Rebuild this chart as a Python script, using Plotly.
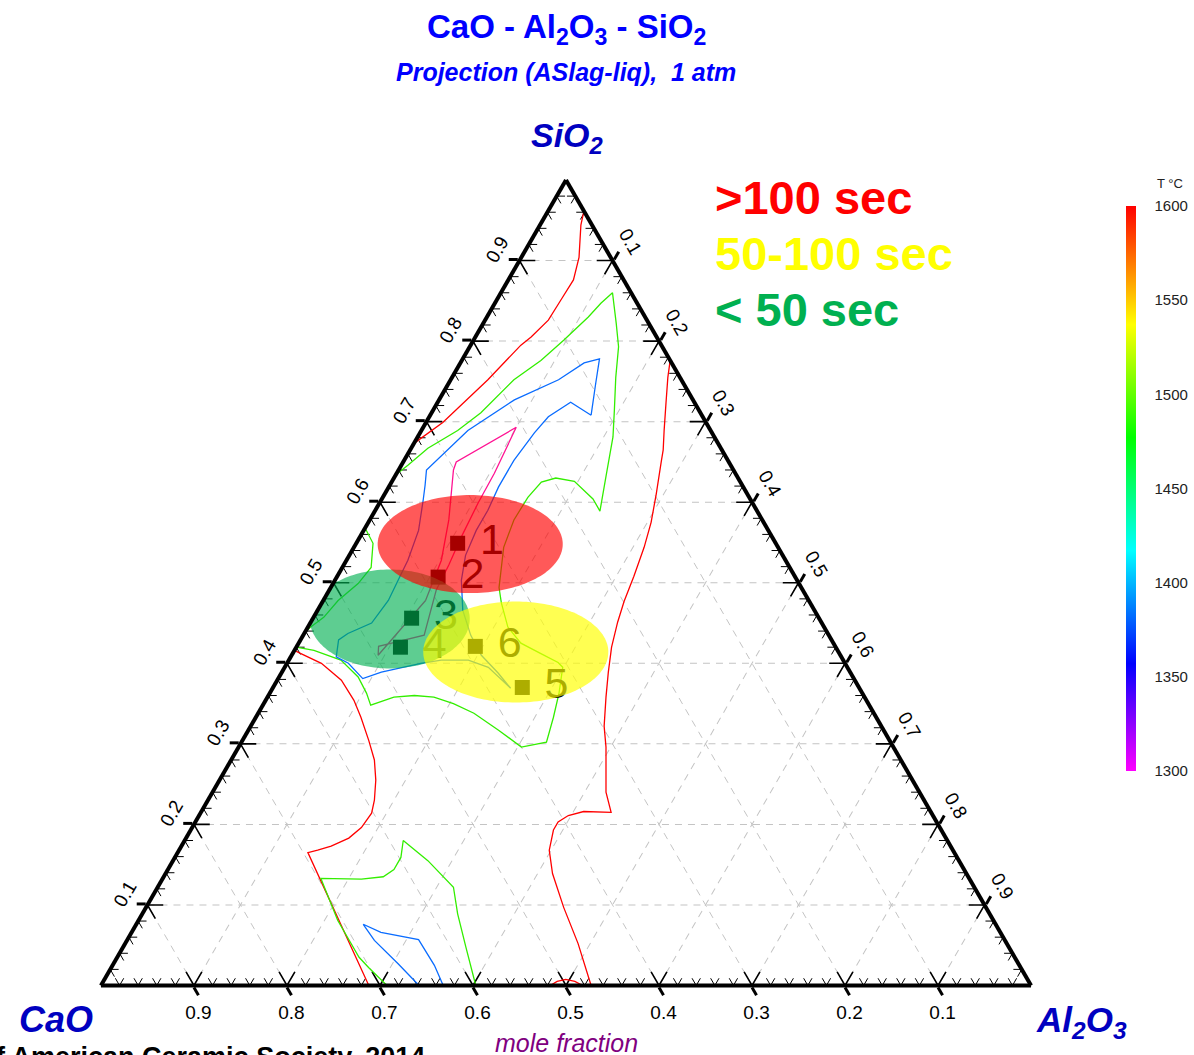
import math
import plotly.graph_objects as go

FONT = "Liberation Sans, Arial, sans-serif"

# ---------------- liquidus isotherms (mole fractions) ----------------
# every line is given as SiO2 and Al2O3 fractions; CaO is the remainder
iso1600_apex_sio2 = [0.9615, 0.944, 0.904, 0.876, 0.851, 0.826, 0.805, 0.795, 0.752, 0.699, 0.673]
iso1600_apex_al2o3 = [0.0385, 0.044, 0.062, 0.070, 0.069, 0.068, 0.060, 0.054, 0.040, 0.018, 0.000]

iso1600_right_sio2 = [0.776, 0.755, 0.723, 0.689, 0.665, 0.651, 0.610, 0.575, 0.544, 0.508, 0.477, 0.451,
                      0.420, 0.389, 0.358, 0.322, 0.296, 0.268, 0.240, 0.215, 0.216, 0.211, 0.203, 0.193,
                      0.168, 0.139, 0.097, 0.052, 0.000]
iso1600_right_al2o3 = [0.224, 0.232, 0.246, 0.261, 0.272, 0.277, 0.292, 0.304, 0.312, 0.319, 0.324, 0.330,
                       0.339, 0.351, 0.364, 0.380, 0.395, 0.409, 0.423, 0.441, 0.411, 0.397, 0.390, 0.390,
                       0.398, 0.416, 0.449, 0.487, 0.527]

iso1600_arc_sio2 = [0.000, 0.005, 0.0075, 0.005, 0.000]
iso1600_arc_al2o3 = [0.483, 0.488, 0.496, 0.507, 0.518]

iso1600_left_sio2 = [0.416, 0.412, 0.400, 0.379, 0.354, 0.333, 0.304, 0.280, 0.255, 0.230, 0.214, 0.196,
                     0.183, 0.173, 0.168, 0.165, 0.000]
iso1600_left_al2o3 = [0.000, 0.009, 0.037, 0.069, 0.095, 0.113, 0.136, 0.154, 0.168, 0.179, 0.184, 0.182,
                      0.175, 0.161, 0.149, 0.140, 0.288]

iso1500_main_sio2 = [0.634, 0.646, 0.667, 0.689, 0.711, 0.752, 0.776, 0.801, 0.830, 0.847, 0.860, 0.822,
                     0.793, 0.755, 0.714, 0.681, 0.632, 0.589, 0.604, 0.626, 0.630, 0.625, 0.606, 0.578,
                     0.544, 0.519, 0.494, 0.475, 0.445, 0.425, 0.412, 0.401, 0.395, 0.363, 0.333, 0.302,
                     0.296, 0.317, 0.338, 0.350, 0.358, 0.360, 0.358, 0.348, 0.363, 0.383, 0.404, 0.416,
                     0.420]
iso1500_main_al2o3 = [0.000, 0.007, 0.018, 0.039, 0.053, 0.068, 0.085, 0.097, 0.109, 0.114, 0.120, 0.143,
                      0.160, 0.176, 0.195, 0.210, 0.227, 0.242, 0.227, 0.196, 0.174, 0.161, 0.156, 0.155,
                      0.161, 0.171, 0.181, 0.193, 0.215, 0.239, 0.267, 0.291, 0.299, 0.311, 0.320, 0.328,
                      0.304, 0.269, 0.232, 0.204, 0.179, 0.157, 0.136, 0.116, 0.104, 0.085, 0.056, 0.021,
                      0.000]

iso1500_edge_sio2 = [0.568, 0.549, 0.519, 0.499, 0.478, 0.457, 0.445, 0.439]
iso1500_edge_al2o3 = [0.000, 0.018, 0.031, 0.027, 0.016, 0.011, 0.003, 0.000]

iso1500_low_sio2 = [0.000, 0.022, 0.035, 0.081, 0.133, 0.132, 0.135, 0.144, 0.159, 0.180, 0.155, 0.122,
                    0.089, 0.047, 0.000]
iso1500_low_al2o3 = [0.3075, 0.277, 0.260, 0.214, 0.170, 0.214, 0.236, 0.243, 0.243, 0.235, 0.274, 0.318,
                     0.339, 0.369, 0.403]

iso1400_loop_sio2 = [0.708, 0.724, 0.706, 0.686, 0.652, 0.619, 0.590, 0.565, 0.534, 0.503, 0.466, 0.435,
                     0.410, 0.388, 0.369, 0.395, 0.404, 0.404, 0.400, 0.389, 0.381, 0.400, 0.408, 0.429,
                     0.437, 0.450, 0.478, 0.503, 0.528, 0.565, 0.603, 0.621, 0.640, 0.689, 0.727, 0.752,
                     0.773, 0.778, 0.748, 0.708]
iso1400_loop_al2o3 = [0.173, 0.143, 0.128, 0.123, 0.118, 0.118, 0.121, 0.121, 0.125, 0.136, 0.156, 0.180,
                      0.204, 0.233, 0.256, 0.219, 0.193, 0.164, 0.144, 0.107, 0.091, 0.066, 0.049, 0.041,
                      0.047, 0.066, 0.070, 0.068, 0.066, 0.059, 0.045, 0.038, 0.030, 0.050, 0.081, 0.116,
                      0.133, 0.147, 0.158, 0.173]

iso1400_low_sio2 = [0.000, 0.027, 0.056, 0.076, 0.066, 0.057, 0.025, 0.000]
iso1400_low_al2o3 = [0.342, 0.306, 0.266, 0.244, 0.268, 0.313, 0.346, 0.368]

iso1300_sio2 = [0.478, 0.528, 0.578, 0.640, 0.650, 0.693, 0.636, 0.599, 0.557, 0.522, 0.491, 0.435,
                0.421, 0.410, 0.478]
iso1300_al2o3 = [0.110, 0.102, 0.085, 0.059, 0.057, 0.100, 0.105, 0.106, 0.109, 0.113, 0.115, 0.130,
                 0.088, 0.093, 0.110]

# ---------------- slag samples ----------------
sample_ids = ["1", "2", "3", "4", "5", "6"]
sample_sio2 = [0.549, 0.507, 0.456, 0.420, 0.370, 0.421]
sample_al2o3 = [0.109, 0.109, 0.106, 0.112, 0.268, 0.192]

# crystallisation-time groups (highlight ellipses)
group_labels = [">100 sec", "50-100 sec", "< 50 sec"]
group_center_sio2 = [0.548, 0.414, 0.455]
group_center_al2o3 = [0.123, 0.239, 0.083]

# axis ticks / colour bar
tick_vals = [0.1, 0.2, 0.3, 0.4, 0.5, 0.6, 0.7, 0.8, 0.9]
tick_text = ["0.1", "0.2", "0.3", "0.4", "0.5", "0.6", "0.7", "0.8", "0.9"]
temp_ticks = [1300, 1350, 1400, 1450, 1500, 1550, 1600]

# ---------------------------------------------------------------
S3 = math.sqrt(3) / 2


def cao(sio2, al2o3):
    return [1 - s - a for s, a in zip(sio2, al2o3)]


def ellipse(sio2, al2o3, half_w, half_h, n=160):
    """Ellipse in the plane of the triangle (side = 1), returned as compositions."""
    xc = al2o3 + sio2 / 2
    yc = sio2 * S3
    A, B, C = [], [], []
    for k in range(n + 1):
        t = 2 * math.pi * k / n
        x = xc + half_w * math.cos(t)
        y = yc + half_h * math.sin(t)
        a = y / S3
        c = x - a / 2
        A.append(a)
        C.append(c)
        B.append(1 - a - c)
    return A, B, C


def edge_marks(values, arm):
    """Small V-shaped marks on the three edges, along the two grid directions."""
    A, B, C = [], [], []

    def seg(p, q, r):
        for pt in (p, q, r):
            A.append(pt[0]); B.append(pt[1]); C.append(pt[2])
        A.append(None); B.append(None); C.append(None)

    for v in values:
        # bottom edge (SiO2 = 0), CaO = v
        seg((arm, v, 1 - v - arm), (0, v, 1 - v), (arm, v - arm, 1 - v))
        # left edge (Al2O3 = 0), SiO2 = v
        seg((v, 1 - v - arm, arm), (v, 1 - v, 0), (v - arm, 1 - v, arm))
        # right edge (CaO = 0), SiO2 = v
        seg((v, arm, 1 - v - arm), (v, 0, 1 - v), (v - arm, arm, 1 - v))
    return A, B, C


fig = go.Figure()

# edge marks
minor_vals = [round(0.02 * k, 2) for k in range(1, 50) if k % 5 != 0]
ma, mb, mc = edge_marks(minor_vals, 0.009)
fig.add_trace(go.Scatterternary(a=ma, b=mb, c=mc, mode="lines",
                                line=dict(color="black", width=1), hoverinfo="skip",
                                showlegend=False))
Ma, Mb, Mc = edge_marks(tick_vals, 0.017)
fig.add_trace(go.Scatterternary(a=Ma, b=Mb, c=Mc, mode="lines",
                                line=dict(color="black", width=1.6), hoverinfo="skip",
                                showlegend=False))

# isotherms
isotherms = [
    (iso1600_apex_sio2, iso1600_apex_al2o3, "#ff0000"),
    (iso1600_right_sio2, iso1600_right_al2o3, "#ff0000"),
    (iso1600_arc_sio2, iso1600_arc_al2o3, "#ff0000"),
    (iso1600_left_sio2, iso1600_left_al2o3, "#ff0000"),
    (iso1500_main_sio2, iso1500_main_al2o3, "#33ee00"),
    (iso1500_edge_sio2, iso1500_edge_al2o3, "#33ee00"),
    (iso1500_low_sio2, iso1500_low_al2o3, "#33ee00"),
    (iso1400_loop_sio2, iso1400_loop_al2o3, "#0a6cff"),
    (iso1400_low_sio2, iso1400_low_al2o3, "#0a6cff"),
    (iso1300_sio2, iso1300_al2o3, "#ff1493"),
]
for s, a, col in isotherms:
    fig.add_trace(go.Scatterternary(a=s, b=cao(s, a), c=a, mode="lines",
                                    line=dict(color=col, width=1.3), hoverinfo="skip",
                                    showlegend=False))

# samples (number set a little apart from its square)
fig.add_trace(go.Scatterternary(
    a=sample_sio2, b=cao(sample_sio2, sample_al2o3), c=sample_al2o3,
    mode="markers+text", text=["\u00a0" + s for s in sample_ids], textposition="middle right",
    marker=dict(symbol="square", size=15, color="black"),
    textfont=dict(family=FONT, size=43, color="black"),
    hoverinfo="skip", showlegend=False, cliponaxis=False))

# translucent group ellipses (drawn over the samples)
ell_sizes = {"< 50 sec": (0.086, 0.0532), ">100 sec": (0.0995, 0.0527), "50-100 sec": (0.0995, 0.0543)}
ell_fill = {"< 50 sec": "rgba(0,176,80,0.63)", ">100 sec": "rgba(255,0,0,0.65)",
            "50-100 sec": "rgba(255,255,0,0.68)"}
for name in ["< 50 sec", ">100 sec", "50-100 sec"]:
    i = group_labels.index(name)
    hw, hh = ell_sizes[name]
    ea, eb, ec = ellipse(group_center_sio2[i], group_center_al2o3[i], hw, hh)
    fig.add_trace(go.Scatterternary(a=ea, b=eb, c=ec, mode="lines", fill="toself",
                                    fillcolor=ell_fill[name], line=dict(width=0),
                                    hoverinfo="skip", showlegend=False))

# colour bar carrier
fig.add_trace(go.Scatterternary(
    a=[0.3], b=[0.3], c=[0.4], mode="markers", hoverinfo="skip", showlegend=False,
    marker=dict(size=1, opacity=0, color=[1450], cmin=1300, cmax=1600,
                colorscale=[[0.0, "#ff00ff"], [0.19, "#0000ff"], [0.39, "#00ffff"],
                            [0.59, "#00ff00"], [0.79, "#ffff00"], [1.0, "#ff0000"]],
                showscale=True,
                colorbar=dict(x=1126 / 1194, xanchor="left", y=1 - 488.5 / 1055, yanchor="middle",
                              len=565 / 1055, lenmode="fraction", thickness=10, outlinewidth=0,
                              xpad=0, ypad=0, tickvals=temp_ticks, ticks="outside", ticklen=16,
                              tickcolor="rgba(0,0,0,0)",
                              tickfont=dict(family=FONT, size=15, color="#222222")))))

axis_style = dict(
    min=0, linecolor="black", linewidth=4, showgrid=True, gridcolor="#c4c4c4", gridwidth=1,
    griddash="7px,6px", tickmode="array", tickvals=tick_vals, ticktext=tick_text,
    ticks="outside", ticklen=9, tickwidth=3, tickcolor="black",
    tickfont=dict(family=FONT, size=19, color="black"), title=dict(text=""), layer="above traces")

fig.update_layout(
    width=1194, height=1055, margin=dict(l=0, r=0, t=0, b=0),
    paper_bgcolor="white", plot_bgcolor="white", showlegend=False,
    ternary=dict(
        sum=1, bgcolor="white",
        domain=dict(x=[100.5 / 1194, 1031.5 / 1194], y=[1 - 985.5 / 1055, 1 - 180 / 1055]),
        aaxis=dict(axis_style, tickangle=-60),
        baxis=dict(axis_style, tickangle=0),
        caxis=dict(axis_style, tickangle=60),
    ),
)


def note(text, x, y, size, color, xanchor="center", bold=False, italic=False):
    t = text
    if bold:
        t = "<b>" + t + "</b>"
    if italic:
        t = "<i>" + t + "</i>"
    fig.add_annotation(text=t, x=x / 1194, y=1 - y / 1055, xref="paper", yref="paper",
                       xanchor=xanchor, yanchor="middle", showarrow=False,
                       font=dict(family=FONT, size=size, color=color))


note("CaO - Al<sub>2</sub>O<sub>3</sub> - SiO<sub>2</sub>", 566, 29, 33, "#0000ff", bold=True)
note("Projection (ASlag-liq),  1 atm", 566, 72, 25, "#0000ff", bold=True, italic=True)
note("SiO<sub>2</sub>", 567, 137, 34, "#0000c0", bold=True, italic=True)
note("CaO", 56, 1019, 36, "#0000c0", bold=True, italic=True)
note("Al<sub>2</sub>O<sub>3</sub>", 1081, 1022, 35, "#0000c0", bold=True, italic=True)
note("mole fraction", 566, 1043, 25, "#800080", italic=True)
note("Courtesy of American Ceramic Society, 2014", 427, 1057, 27, "black", xanchor="right", bold=True)
note("T °C", 1170, 183, 13, "#222222")

legend_colors = ["#ff0000", "#ffff00", "#00b050"]
legend_y = [197, 253, 310]
for lab, col, yy in zip(group_labels, legend_colors, legend_y):
    note(lab, 713, yy, 47, col, xanchor="left", bold=True)

fig.write_html("out.html")
